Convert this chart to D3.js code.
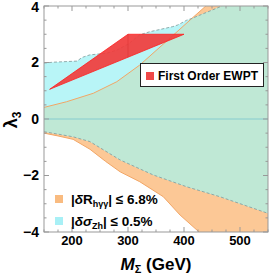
<!DOCTYPE html>
<html>
<head>
<meta charset="utf-8">
<script src="https://cdn.jsdelivr.net/npm/d3@7"></script>
<style>
  body { margin: 0; background: #fff; }
  text { font-family: "Liberation Sans", Arial, sans-serif; font-weight: bold; }
</style>
</head>
<body>
<svg id="chart" width="271" height="275"></svg>
<script>
// upper / lower edge of the |dR_hγγ| <= 6.8% band (orange)
const massUpO = [150, 190, 238, 280, 321, 368, 414, 439];
const lamUpO = [0.41, 0.61, 0.91, 1.32, 1.91, 2.74, 3.56, 4.0];
const massLoO = [150, 175, 202, 232, 260, 286, 321, 363, 393, 427];
const lamLoO = [-0.5, -0.6, -0.72, -1.07, -1.5, -1.87, -2.22, -2.75, -3.4, -4.0];

// upper / lower edge of the |dσ_Zh| <= 0.5% band (cyan)
const massUpC = [150, 166, 209, 218, 232, 262, 280, 300, 321, 339, 380, 389, 405, 414, 468];
const lamUpC = [1.98, 2.01, 2.05, 2.18, 2.27, 2.33, 2.44, 2.65, 2.98, 3.09, 3.27, 3.33, 3.5, 3.56, 4.0];
const massLoC = [150, 202, 232, 286, 345, 405, 464, 550];
const lamLoC = [-0.45, -0.63, -0.8, -1.45, -1.98, -2.4, -2.75, -3.34];

// first order EWPT region
const massEW = [160, 300, 400];
const lamEW = [1.05, 3, 3];

const xTicks = [200, 300, 400, 500];
const yTicks = [-4, -2, 0, 2, 4];

const svg = d3.select("#chart");
const x = d3.scaleLinear().domain([150, 550]).range([44, 268]);
const y = d3.scaleLinear().domain([-4, 4]).range([232, 6]);

const pts = (ms, ls) => ms.map((m, i) => [m, ls[i]]);
const line = d3.line().x(d => x(d[0])).y(d => y(d[1]));
const area = d => line(d) + "Z";

const upO = pts(massUpO, lamUpO), loO = pts(massLoO, lamLoO);
const upC = pts(massUpC, lamUpC), loC = pts(massLoC, lamLoC);

// closed regions
const orangeReg = upO.concat([[550, 4], [550, -4]], loO.slice().reverse());
const cyanReg = upC.concat([[550, 4]], loC.slice().reverse());

const defs = svg.append("defs");
defs.append("clipPath").attr("id", "plotClip")
  .append("rect").attr("x", 44).attr("y", 6).attr("width", 224).attr("height", 226);
defs.append("clipPath").attr("id", "orangeClip")
  .append("path").attr("d", area(orangeReg));

const g = svg.append("g").attr("clip-path", "url(#plotClip)");

g.append("path").attr("d", area(orangeReg)).attr("fill", "#fcc896");
g.append("path").attr("d", area(cyanReg)).attr("fill", "#b8f5f7");
g.append("g").attr("clip-path", "url(#orangeClip)")
  .append("path").attr("d", area(cyanReg)).attr("fill", "#bfe8d5");

// boundaries
g.selectAll(".oedge").data([upO, loO]).enter().append("path")
  .attr("d", line).attr("fill", "none").attr("stroke", "#f2a666").attr("stroke-width", 1);
g.selectAll(".cedge").data([upC, loC]).enter().append("path")
  .attr("d", line).attr("fill", "none").attr("stroke", "#7f9898")
  .attr("stroke-width", 0.8).attr("stroke-dasharray", "3,2");

// zero line
g.append("line").attr("x1", x(150)).attr("x2", x(550)).attr("y1", y(0)).attr("y2", y(0))
  .attr("stroke", "#86cccf").attr("stroke-width", 1);

// EWPT wedge
const ew = pts(massEW, lamEW);
g.append("path").attr("d", area(ew))
  .attr("fill", "#f03c3c").attr("fill-opacity", 0.92)
  .attr("stroke", "#ff1e1e").attr("stroke-width", 0.8).attr("stroke-linejoin", "round");
g.append("line")
  .attr("x1", x(300)).attr("y1", y(3))
  .attr("x2", x(300)).attr("y2", y(1.05 + (3 - 1.05) * (300 - 160) / (400 - 160)))
  .attr("stroke", "#d83030").attr("stroke-width", 0.5);

// frame and ticks
svg.append("rect").attr("x", 44).attr("y", 6).attr("width", 224).attr("height", 226)
  .attr("fill", "none").attr("stroke", "#999").attr("stroke-width", 1);

const tk = svg.append("g").attr("stroke", "#999").attr("stroke-width", 1);
d3.range(150, 551, 25).forEach(m => {
  const len = m % 100 === 0 ? 5 : 2.5;
  tk.append("line").attr("x1", x(m)).attr("x2", x(m)).attr("y1", 232).attr("y2", 232 - len);
  tk.append("line").attr("x1", x(m)).attr("x2", x(m)).attr("y1", 6).attr("y2", 6 + len);
});
d3.range(-4, 4.01, 0.5).forEach(l => {
  const len = l % 2 === 0 ? 5 : 2.5;
  tk.append("line").attr("y1", y(l)).attr("y2", y(l)).attr("x1", 44).attr("x2", 44 + len);
  tk.append("line").attr("y1", y(l)).attr("y2", y(l)).attr("x1", 268).attr("x2", 268 - len);
});

svg.selectAll(".xl").data(xTicks).enter().append("text")
  .attr("x", d => x(d)).attr("y", 245).attr("text-anchor", "middle")
  .attr("font-size", 13).text(d => d);
svg.selectAll(".yl").data(yTicks).enter().append("text")
  .attr("x", 39).attr("y", d => Math.max(y(d) + 4.5, 12)).attr("text-anchor", "end")
  .attr("font-size", 14).text(d => d < 0 ? "\u2212" + Math.abs(d) : d);

// axis titles
const xt = svg.append("text").attr("x", 156).attr("y", 270).attr("text-anchor", "middle")
  .attr("font-size", 17);
xt.append("tspan").attr("font-style", "italic").text("M");
xt.append("tspan").attr("font-size", 11).attr("dy", 3).text("\u03A3");
xt.append("tspan").attr("dy", -3).text(" (GeV)");

const yt = svg.append("text").attr("transform", "translate(17,120) rotate(-90)")
  .attr("text-anchor", "middle").attr("font-size", 18);
yt.append("tspan").text("\u03BB");
yt.append("tspan").attr("font-size", 12).attr("dy", 4).text("3");

// legend: first order EWPT
const lg = svg.append("g");
lg.append("rect").attr("x", 140.5).attr("y", 63.5).attr("width", 123).attr("height", 23)
  .attr("fill", "#fff").attr("stroke", "#222").attr("stroke-width", 1);
lg.append("rect").attr("x", 146).attr("y", 72).attr("width", 8).attr("height", 8).attr("fill", "#f04848");
lg.append("text").attr("x", 158).attr("y", 80).attr("font-size", 12).text("First Order EWPT");

// legend: constraints
const l2 = svg.append("g");
l2.append("rect").attr("x", 55).attr("y", 195).attr("width", 8).attr("height", 8).attr("fill", "#f9bb80");
l2.append("rect").attr("x", 55).attr("y", 217).attr("width", 8).attr("height", 8).attr("fill", "#a8f0f6");
const t1 = l2.append("text").attr("x", 71).attr("y", 204).attr("font-size", 13.5);
t1.append("tspan").text("|");
t1.append("tspan").attr("font-style", "italic").text("\u03B4");
t1.append("tspan").text("R");
t1.append("tspan").attr("font-size", 9).attr("dy", 3).text("h\u03B3\u03B3");
t1.append("tspan").attr("dy", -3).text("| \u2264 6.8%");
const t2 = l2.append("text").attr("x", 71).attr("y", 226).attr("font-size", 13.5);
t2.append("tspan").text("|");
t2.append("tspan").attr("font-style", "italic").text("\u03B4\u03C3");
t2.append("tspan").attr("font-size", 9).attr("dy", 3).text("Zh");
t2.append("tspan").attr("dy", -3).text("| \u2264 0.5%");
</script>
</body>
</html>
